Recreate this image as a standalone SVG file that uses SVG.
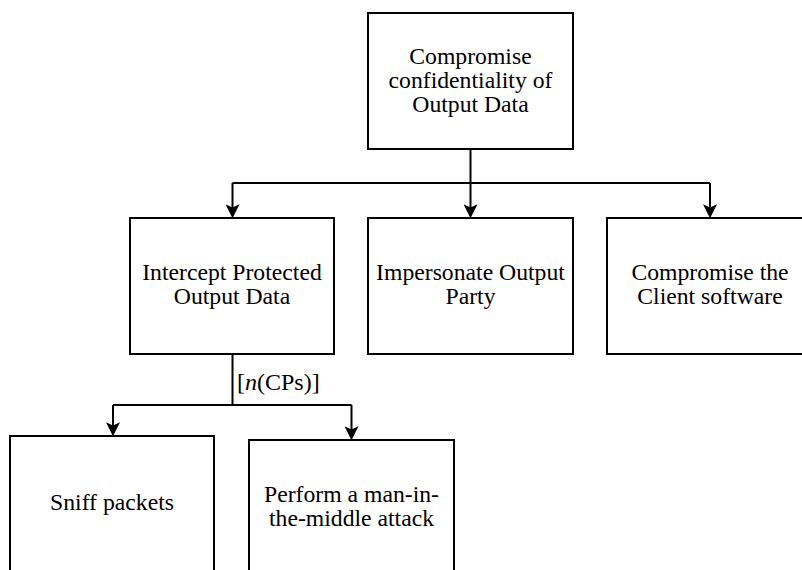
<svg xmlns="http://www.w3.org/2000/svg" width="802" height="570" viewBox="0 0 802 570">
<style>
.box{fill:#fff;stroke:#000;stroke-width:2}
.t{font-family:"Liberation Serif","Times New Roman",serif;font-size:23.7px;fill:#000;text-anchor:middle}
.lbl{font-family:"Liberation Serif","Times New Roman",serif;font-size:24px;fill:#000}
.c{fill:none;stroke:#000;stroke-width:2}
</style>
<defs>
<marker id="arr" markerUnits="userSpaceOnUse" markerWidth="14" markerHeight="14" viewBox="0 0 13 13" refX="10" refY="6.5" orient="auto">
<path d="M0,0 L13,6.5 L0,13 L3,6.5 Z" fill="#000"/>
</marker>
</defs>
<rect width="802" height="570" fill="#fff"/>
<g id="connectors">
<path class="c" d="M470.5,149 V215" marker-end="url(#arr)"/>
<path class="c" d="M232.5,183 H710"/>
<path class="c" d="M232.5,183 V215" marker-end="url(#arr)"/>
<path class="c" d="M710,183 V215" marker-end="url(#arr)"/>
<path class="c" d="M232.5,354 V405"/>
<path class="c" d="M113,405 H351.5"/>
<path class="c" d="M113,405 V433" marker-end="url(#arr)"/>
<path class="c" d="M351.5,405 V437" marker-end="url(#arr)"/>
<text class="lbl" x="237" y="390">[<tspan font-style="italic">n</tspan>(CPs)]</text>
</g>
<g id="root">
<rect class="box" x="368" y="13" width="205" height="136"/>
<text class="t" x="470.5" y="63.5">Compromise</text>
<text class="t" x="470.5" y="87.5">confidentiality of</text>
<text class="t" x="470.5" y="111.5">Output Data</text>
</g>
<g id="intercept">
<rect class="box" x="130" y="218" width="204" height="136"/>
<text class="t" x="232" y="279.5">Intercept Protected</text>
<text class="t" x="232" y="303.5">Output Data</text>
</g>
<g id="impersonate">
<rect class="box" x="368" y="218" width="205" height="136"/>
<text class="t" x="470.5" y="279.5">Impersonate Output</text>
<text class="t" x="470.5" y="303.5">Party</text>
</g>
<g id="client">
<rect class="box" x="607" y="218" width="206" height="136"/>
<text class="t" x="710" y="279.5">Compromise the</text>
<text class="t" x="710" y="303.5">Client software</text>
</g>
<g id="sniff">
<rect class="box" x="10" y="436" width="204" height="150"/>
<text class="t" x="112" y="510">Sniff packets</text>
</g>
<g id="mitm">
<rect class="box" x="249" y="440" width="205" height="150"/>
<text class="t" x="351.5" y="501.5">Perform a man-in-</text>
<text class="t" x="351.5" y="525.5">the-middle attack</text>
</g>
</svg>
